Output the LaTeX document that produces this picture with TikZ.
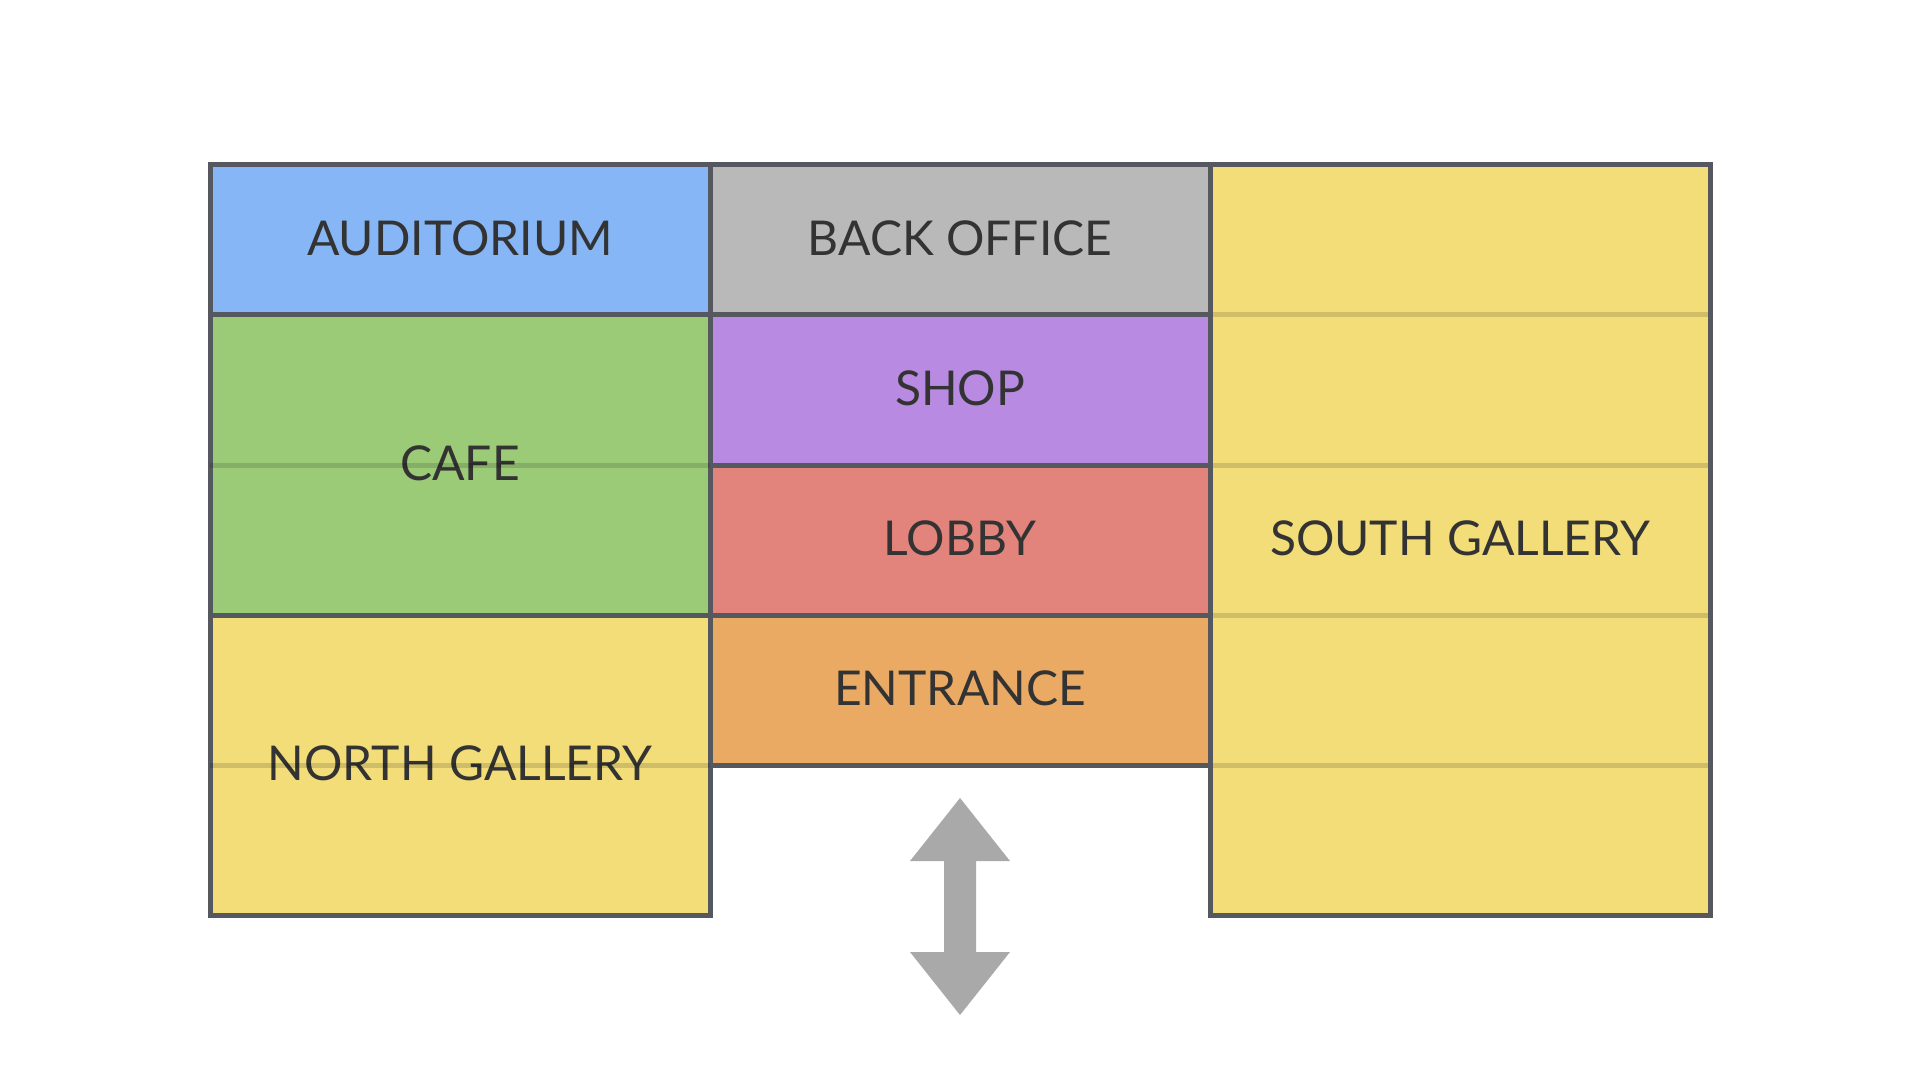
\documentclass[tikz,border=0pt]{standalone}
\usepackage{fontspec}
\setmainfont{Lato}
\definecolor{cblue}{HTML}{86B6F6}
\definecolor{cgray}{HTML}{B8B9B8}
\definecolor{cgreen}{HTML}{9CCB78}
\definecolor{cpurple}{HTML}{B98AE2}
\definecolor{cred}{HTML}{E2837C}
\definecolor{corange}{HTML}{EAAA63}
\definecolor{cyellow}{HTML}{F2DD78}
\definecolor{cborder}{HTML}{55595F}
\definecolor{ctext}{HTML}{333333}
\definecolor{carrow}{HTML}{A8A9A8}
\begin{document}
\begin{tikzpicture}[x=0.5pt,y=-0.5pt,
  room/.style={draw=cborder, line width=2.5pt, rectangle, inner sep=0pt,
    minimum width=250pt, text=ctext, font=\fontsize{24pt}{28pt}\selectfont,
    text depth=1.5pt},
  gridline/.style={draw=black, draw opacity=0.14, line width=2.5pt}]
\useasboundingbox (0,0) rectangle (1920,1080);
\fill[white] (0,0) rectangle (1920,1080);
% rooms
\node[room, fill=cblue,   minimum height=75pt]  (aud)   at (460,240) {AUDITORIUM};
\node[room, fill=cgreen,  minimum height=150pt] (cafe)  at (460,465) {CAFE};
\node[room, fill=cyellow, minimum height=150pt] (north) at (460,765) {NORTH GALLERY};
\node[room, fill=cgray,   minimum height=75pt]  (back)  at (960,240) {BACK OFFICE};
\node[room, fill=cpurple, minimum height=75pt]  (shop)  at (960,390) {SHOP};
\node[room, fill=cred,    minimum height=75pt]  (lobby) at (960,540) {LOBBY};
\node[room, fill=corange, minimum height=75pt]  (entr)  at (960,690) {ENTRANCE};
\node[room, fill=cyellow, minimum height=375pt] (south) at (1460,540) {SOUTH GALLERY};
% faint grid lines inside the larger rooms
\draw[gridline] ([xshift=1.25pt]cafe.west) -- ([xshift=-1.25pt]cafe.east);
\draw[gridline] ([xshift=1.25pt]north.west) -- ([xshift=-1.25pt]north.east);
\foreach \yy in {315,465,615,765}
  \draw[gridline] (1212.5,\yy) -- (1707.5,\yy);
% entrance arrow
\coordinate (atop) at (960,798);
\coordinate (abot) at (960,1015);
\fill[carrow] (atop) -- (1010,861) -- (976,861) -- (976,952) -- (1010,952)
  -- (abot) -- (910,952) -- (944,952) -- (944,861) -- (910,861) -- cycle;
\end{tikzpicture}
\end{document}
